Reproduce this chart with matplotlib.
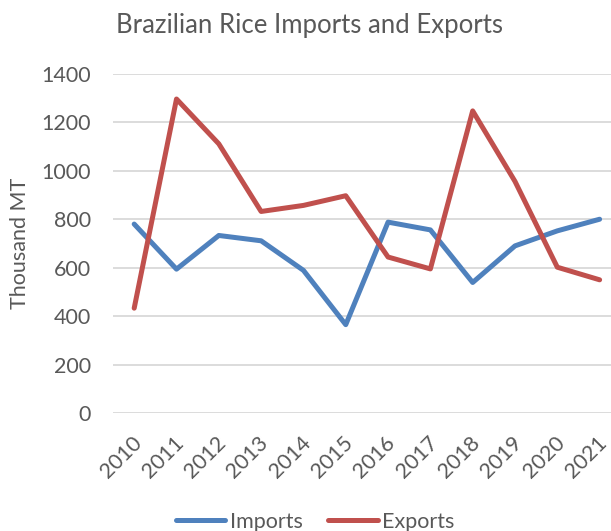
import matplotlib
matplotlib.use("Agg")
import matplotlib.pyplot as plt
import matplotlib.transforms as mtransforms

years = ["2010", "2011", "2012", "2013", "2014", "2015", "2016", "2017", "2018", "2019", "2020", "2021"]
imports = [780, 594, 733, 711, 589, 365, 788, 756, 539, 690, 752, 800]
exports = [433, 1296, 1111, 832, 857, 897, 644, 595, 1247, 956, 602, 550]
y_ticks = [0, 200, 400, 600, 800, 1000, 1200, 1400]

plt.rcParams['font.family'] = ['Lato', 'DejaVu Sans']
txt = '#595959'
fs = 15.5

fig = plt.figure(figsize=(6.11, 5.31), dpi=100)
ax = fig.add_axes([0.185, 0.222, 0.831, 0.639])
x = list(range(len(years)))
ax.plot(x, imports, color='#4F81BD', lw=3.6, label='Imports', solid_capstyle='round', solid_joinstyle='round')
ax.plot(x, exports, color='#C0504D', lw=3.6, label='Exports', solid_capstyle='round', solid_joinstyle='round')
ax.set_xlim(-0.5, len(years) - 0.5)
ax.set_ylim(0, 1400)
ax.set_yticks(y_ticks)
ax.set_yticklabels([str(v) for v in y_ticks], fontsize=fs, color=txt)
ax.set_xticks(x)
ax.set_xticklabels(years, rotation=45, ha='right', va='top', rotation_mode='anchor', fontsize=fs, color=txt)
ax.tick_params(axis='y', length=0, pad=16)
ax.tick_params(axis='x', length=0, pad=14)
off = mtransforms.ScaledTranslation(-3 / 100, 0, fig.dpi_scale_trans)
for lab in ax.get_xticklabels():
    lab.set_transform(lab.get_transform() + off)
ax.grid(axis='y', color='#D9D9D9', lw=1.3)
ax.set_axisbelow(True)
for s in ax.spines.values():
    s.set_visible(False)
ax.set_ylabel('Thousand MT', fontsize=fs, color=txt)
ax.yaxis.set_label_coords(-0.163, 0.5)
fig.text(0.507, 1 - 25 / 531, 'Brazilian Rice Imports and Exports', ha='center', va='center', fontsize=18.5, color=txt)
fig.legend(loc='center', bbox_to_anchor=(0.516, 1 - 522 / 531), ncol=2, frameon=False, fontsize=fs,
           labelcolor=txt, handlelength=2.3, handletextpad=0.2, columnspacing=1.2)
fig.savefig('out.png', dpi=100)
